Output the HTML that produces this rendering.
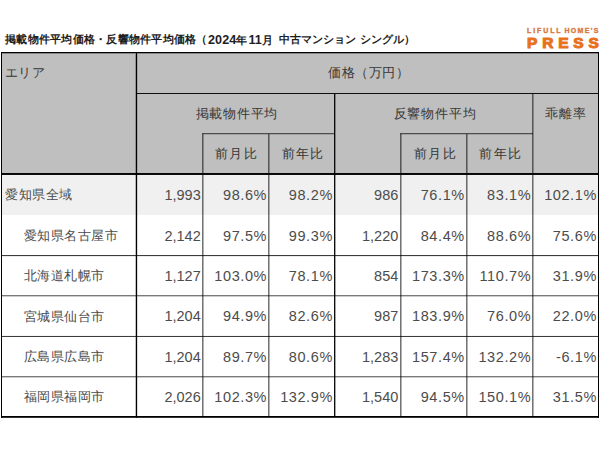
<!DOCTYPE html>
<html><head><meta charset="utf-8">
<style>
*{margin:0;padding:0;box-sizing:border-box}
html,body{width:600px;height:450px;background:#fff;overflow:hidden}
body{position:relative;font-family:"Liberation Sans",sans-serif;color:#3a3a3a}
.a{position:absolute}
.t{position:absolute;white-space:nowrap;line-height:1}
.h{font-size:13px;letter-spacing:0.5px;color:#4a4a4a}
.c{text-align:center}
.hd{color:#363636}
.w{letter-spacing:1.3px}
.n{font-size:14.5px;text-align:right;color:#4c4c4c}
.p{letter-spacing:0.6px}
.d{font-size:12.6px;letter-spacing:0.1px}
.lg1{top:27px;font-size:7px;font-weight:bold;color:#d8783c;-webkit-text-stroke:0.35px #d8783c}
.tt{top:34px;font-size:11px;font-weight:bold;color:#1e1e1e}
.l{position:absolute;background:#000}
.vg{width:2px;height:285px;background:#8c8c8c}
.lg{background:#666}
</style></head><body>
<!-- title -->
<div class="t tt" style="left:5px;letter-spacing:0.25px">掲載物件平均価格・反響物件平均価格（</div>
<div class="t tt" style="left:208px"><span class="d">2024</span><span style="letter-spacing:1px">年</span><span class="d">11</span>月</div>
<div class="t tt" id="t3" style="left:279px">中古マンション<span style="letter-spacing:1px"> </span>シングル）</div>
<!-- logo -->
<div class="t lg1" style="left:527px;letter-spacing:1.9px">LIFULL</div>
<div class="t lg1" style="left:564.5px;letter-spacing:1.3px">HOME'S</div>
<div class="t" style="left:527px;top:34.7px;font-size:15.5px;font-weight:bold;color:#e9731c;letter-spacing:4.8px;-webkit-text-stroke:1px #e8701e">PRESS</div>

<!-- backgrounds -->
<div class="a" style="left:1px;top:52px;width:598px;height:122px;background:#bfbfbf"></div>
<div class="a" style="left:1px;top:174px;width:598px;height:41px;background:#f0f0f0"></div>

<!-- lines -->
<div class="a" style="left:1px;top:52px;width:598px;height:1px;background:rgba(0,0,0,1)"></div>
<div class="a" style="left:2px;top:53px;width:596px;height:1px;background:rgba(0,0,0,0.3)"></div>
<div class="a" style="left:137px;top:93px;width:461px;height:1px;background:rgba(0,0,0,0.92)"></div>
<div class="a" style="left:202px;top:133px;width:133px;height:1px;background:rgba(0,0,0,0.6)"></div>
<div class="a" style="left:202px;top:134px;width:133px;height:1px;background:rgba(0,0,0,0.15)"></div>
<div class="a" style="left:400px;top:133px;width:133px;height:1px;background:rgba(0,0,0,0.6)"></div>
<div class="a" style="left:400px;top:134px;width:133px;height:1px;background:rgba(0,0,0,0.15)"></div>
<div class="a" style="left:1px;top:173px;width:598px;height:1px;background:rgba(0,0,0,0.97)"></div>
<div class="a" style="left:1px;top:174px;width:598px;height:1px;background:rgba(0,0,0,0.95)"></div>
<div class="a" style="left:2px;top:255px;width:596px;height:1px;background:rgba(0,0,0,0.76)"></div>
<div class="a" style="left:2px;top:256px;width:596px;height:1px;background:rgba(0,0,0,0.08)"></div>
<div class="a" style="left:2px;top:295px;width:596px;height:1px;background:rgba(0,0,0,0.52)"></div>
<div class="a" style="left:2px;top:296px;width:596px;height:1px;background:rgba(0,0,0,0.2)"></div>
<div class="a" style="left:2px;top:336px;width:596px;height:1px;background:rgba(0,0,0,0.76)"></div>
<div class="a" style="left:2px;top:335px;width:596px;height:1px;background:rgba(0,0,0,0.04)"></div>
<div class="a" style="left:2px;top:376px;width:596px;height:1px;background:rgba(0,0,0,0.52)"></div>
<div class="a" style="left:2px;top:377px;width:596px;height:1px;background:rgba(0,0,0,0.2)"></div>
<div class="a" style="left:1px;top:416px;width:598px;height:1px;background:rgba(0,0,0,1)"></div>
<div class="a" style="left:1px;top:417px;width:598px;height:1px;background:rgba(0,0,0,0.8)"></div>
<div class="a" style="left:1px;top:52px;width:1px;height:366px;background:rgba(0,0,0,1)"></div>
<div class="a" style="left:135px;top:54px;width:1px;height:362px;background:rgba(0,0,0,0.25)"></div>
<div class="a" style="left:136px;top:52px;width:1px;height:366px;background:rgba(0,0,0,1)"></div>
<div class="a" style="left:137px;top:54px;width:1px;height:362px;background:rgba(0,0,0,0.15)"></div>
<div class="a" style="left:334px;top:94px;width:1px;height:322px;background:rgba(0,0,0,0.95)"></div>
<div class="a" style="left:335px;top:94px;width:1px;height:322px;background:rgba(0,0,0,0.35)"></div>
<div class="a" style="left:598px;top:52px;width:1px;height:366px;background:rgba(0,0,0,1)"></div>
<div class="a" style="left:202px;top:134px;width:1px;height:39px;background:rgba(0,0,0,0.55)"></div>
<div class="a" style="left:203px;top:134px;width:1px;height:39px;background:rgba(0,0,0,0.3)"></div>
<div class="a" style="left:202px;top:175px;width:1px;height:241px;background:rgba(0,0,0,0.55)"></div>
<div class="a" style="left:203px;top:175px;width:1px;height:241px;background:rgba(0,0,0,0.3)"></div>
<div class="a" style="left:268px;top:134px;width:1px;height:39px;background:rgba(0,0,0,0.55)"></div>
<div class="a" style="left:269px;top:134px;width:1px;height:39px;background:rgba(0,0,0,0.3)"></div>
<div class="a" style="left:268px;top:175px;width:1px;height:241px;background:rgba(0,0,0,0.55)"></div>
<div class="a" style="left:269px;top:175px;width:1px;height:241px;background:rgba(0,0,0,0.3)"></div>
<div class="a" style="left:400px;top:134px;width:1px;height:39px;background:rgba(0,0,0,0.55)"></div>
<div class="a" style="left:401px;top:134px;width:1px;height:39px;background:rgba(0,0,0,0.3)"></div>
<div class="a" style="left:400px;top:175px;width:1px;height:241px;background:rgba(0,0,0,0.55)"></div>
<div class="a" style="left:401px;top:175px;width:1px;height:241px;background:rgba(0,0,0,0.3)"></div>
<div class="a" style="left:466px;top:134px;width:1px;height:39px;background:rgba(0,0,0,0.55)"></div>
<div class="a" style="left:467px;top:134px;width:1px;height:39px;background:rgba(0,0,0,0.3)"></div>
<div class="a" style="left:466px;top:175px;width:1px;height:241px;background:rgba(0,0,0,0.55)"></div>
<div class="a" style="left:467px;top:175px;width:1px;height:241px;background:rgba(0,0,0,0.3)"></div>
<div class="a" style="left:532px;top:94px;width:1px;height:79px;background:rgba(0,0,0,0.55)"></div>
<div class="a" style="left:533px;top:94px;width:1px;height:79px;background:rgba(0,0,0,0.3)"></div>
<div class="a" style="left:532px;top:175px;width:1px;height:241px;background:rgba(0,0,0,0.55)"></div>
<div class="a" style="left:533px;top:175px;width:1px;height:241px;background:rgba(0,0,0,0.3)"></div>


<!-- header text -->
<div class="t h hd" style="left:4.5px;top:66px">エリア</div>
<div class="t h hd" style="left:328.3px;top:66px">価格（万円）</div>
<div class="t h hd" style="left:195.5px;top:107px;letter-spacing:0.8px">掲載物件平均</div>
<div class="t h hd" style="left:393.7px;top:107px;letter-spacing:0.8px">反響物件平均</div>
<div class="t h hd w" style="left:544.6px;top:107px">乖離率</div>
<div class="t h hd w" style="left:215px;top:147px">前月比</div>
<div class="t h hd w" style="left:281.7px;top:147px">前年比</div>
<div class="t h hd w" style="left:414.2px;top:147px">前月比</div>
<div class="t h hd w" style="left:479.4px;top:147px">前年比</div>

<!-- row labels -->
<div class="t h" style="left:5px;top:188px">愛知県全域</div>
<div class="t h" style="left:23.5px;top:229px">愛知県名古屋市</div>
<div class="t h" style="left:23.5px;top:269px">北海道札幌市</div>
<div class="t h" style="left:23.5px;top:310px">宮城県仙台市</div>
<div class="t h" style="left:23.5px;top:350px">広島県広島市</div>
<div class="t h" style="left:23.5px;top:390px">福岡県福岡市</div>
<!-- numbers -->
<div class="t n" style="right:399.3px;top:188px">1,993</div>
<div class="t n p" style="right:332.9px;top:188px">98.6%</div>
<div class="t n p" style="right:267.1px;top:188px">98.2%</div>
<div class="t n" style="right:201.7px;top:188px">986</div>
<div class="t n p" style="right:135.2px;top:188px">76.1%</div>
<div class="t n p" style="right:68.8px;top:188px">83.1%</div>
<div class="t n p" style="right:3.1px;top:188px">102.1%</div>
<div class="t n" style="right:399.3px;top:229px">2,142</div>
<div class="t n p" style="right:332.9px;top:229px">97.5%</div>
<div class="t n p" style="right:267.1px;top:229px">99.3%</div>
<div class="t n" style="right:201.7px;top:229px">1,220</div>
<div class="t n p" style="right:135.2px;top:229px">84.4%</div>
<div class="t n p" style="right:68.8px;top:229px">88.6%</div>
<div class="t n p" style="right:3.1px;top:229px">75.6%</div>
<div class="t n" style="right:399.3px;top:269px">1,127</div>
<div class="t n p" style="right:332.9px;top:269px">103.0%</div>
<div class="t n p" style="right:267.1px;top:269px">78.1%</div>
<div class="t n" style="right:201.7px;top:269px">854</div>
<div class="t n p" style="right:135.2px;top:269px">173.3%</div>
<div class="t n p" style="right:68.8px;top:269px">110.7%</div>
<div class="t n p" style="right:3.1px;top:269px">31.9%</div>
<div class="t n" style="right:399.3px;top:309px">1,204</div>
<div class="t n p" style="right:332.9px;top:309px">94.9%</div>
<div class="t n p" style="right:267.1px;top:309px">82.6%</div>
<div class="t n" style="right:201.7px;top:309px">987</div>
<div class="t n p" style="right:135.2px;top:309px">183.9%</div>
<div class="t n p" style="right:68.8px;top:309px">76.0%</div>
<div class="t n p" style="right:3.1px;top:309px">22.0%</div>
<div class="t n" style="right:399.3px;top:350px">1,204</div>
<div class="t n p" style="right:332.9px;top:350px">89.7%</div>
<div class="t n p" style="right:267.1px;top:350px">80.6%</div>
<div class="t n" style="right:201.7px;top:350px">1,283</div>
<div class="t n p" style="right:135.2px;top:350px">157.4%</div>
<div class="t n p" style="right:68.8px;top:350px">132.2%</div>
<div class="t n p" style="right:3.1px;top:350px">-6.1%</div>
<div class="t n" style="right:399.3px;top:390px">2,026</div>
<div class="t n p" style="right:332.9px;top:390px">102.3%</div>
<div class="t n p" style="right:267.1px;top:390px">132.9%</div>
<div class="t n" style="right:201.7px;top:390px">1,540</div>
<div class="t n p" style="right:135.2px;top:390px">94.5%</div>
<div class="t n p" style="right:68.8px;top:390px">150.1%</div>
<div class="t n p" style="right:3.1px;top:390px">31.5%</div>
</body></html>
